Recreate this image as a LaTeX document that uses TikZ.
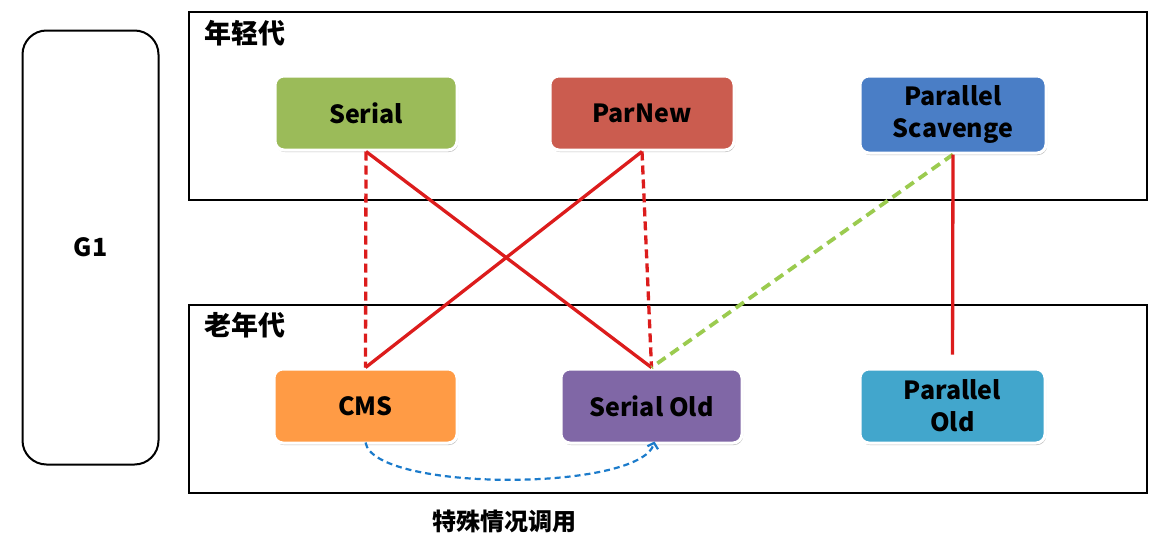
\documentclass[tikz,border=0pt]{standalone}
\usepackage{fontspec}
\setmainfont{Noto Sans CJK SC}
\usetikzlibrary{arrows.meta,shadows}
\definecolor{cSerial}{HTML}{9BBB59}
\definecolor{cParNew}{HTML}{CB5C4F}
\definecolor{cPS}{HTML}{4A7EC6}
\definecolor{cCMS}{HTML}{FF9B45}
\definecolor{cSO}{HTML}{8067A6}
\definecolor{cPO}{HTML}{42A6CC}
\definecolor{lred}{HTML}{DC1C1C}
\definecolor{lgreen}{HTML}{9BCB4F}
\definecolor{lblue}{HTML}{1B7BCB}
\tikzset{
  gcbox/.style={rounded corners=9pt, draw=white, line width=3pt,
    minimum height=74pt, inner sep=2pt, align=center,
    font=\bfseries\fontsize{25}{32}\selectfont, text=black,
    drop shadow={shadow xshift=1pt, shadow yshift=-2pt, opacity=0.25, fill=black}},
  genbox/.style={draw=black, line width=2.5pt},
  genlabel/.style={anchor=north west, inner sep=0pt, font=\bfseries\fontsize{27}{32}\selectfont},
  redsolid/.style={draw=lred, line width=3.3pt},
  reddash/.style={draw=lred, line width=3.3pt, dash pattern=on 9pt off 5pt},
  greendash/.style={draw=lgreen, line width=3.8pt, dash pattern=on 10pt off 6pt},
  bluedash/.style={draw=lblue, line width=2.2pt, dash pattern=on 6pt off 4pt}
}
\begin{document}
\begin{tikzpicture}[x=1pt,y=-1pt]
\useasboundingbox (0,0) rectangle (1159,538);
% generation frames
\draw[genbox] (189,12) rectangle (1147,200);
\draw[genbox] (189,305) rectangle (1147,493);
\node[genlabel] (young) at (204,20) {年轻代};
\node[genlabel] (old) at (204,312) {老年代};
% G1
\node[draw=black, line width=2pt, rounded corners=24pt, minimum width=136pt, minimum height=434pt,
  font=\bfseries\fontsize{25}{30}\selectfont] (g1) at (90.5,247.5) {G1};
% collectors
\node[gcbox, fill=cSerial, minimum width=182pt] (serial) at (366,113) {Serial};
\node[gcbox, fill=cParNew, minimum width=184pt] (parnew) at (642,113) {ParNew};
\node[gcbox, fill=cPS, minimum width=186pt, minimum height=77pt] (ps) at (953,114.5) {Parallel\\Scavenge};
\node[gcbox, fill=cCMS, minimum width=183pt] (cms) at (365.5,406) {CMS};
\node[gcbox, fill=cSO, minimum width=181pt] (so) at (651.5,406) {Serial Old};
\node[gcbox, fill=cPO, minimum width=185pt] (po) at (952.5,406) {Parallel\\Old};
% connectors
\draw[reddash] (serial.south) -- (cms.north);
\draw[redsolid] (serial.south) -- (so.north);
\draw[redsolid] (parnew.south) -- (cms.north);
\draw[reddash] (parnew.south) -- (so.north);
\draw[greendash] (ps.south) -- (so.north);
\draw[redsolid, shorten >=13pt] (ps.south) -- (po.north);
\draw[bluedash, -{Straight Barb[length=5pt,width=11pt]}] ([yshift=2pt]cms.south) .. controls (374,492) and (640,492) .. ([xshift=3pt,yshift=3pt]so.south);
\node[font=\bfseries\fontsize{24}{28}\selectfont] (special) at (504,521) {特殊情况调用};
\end{tikzpicture}
\end{document}
